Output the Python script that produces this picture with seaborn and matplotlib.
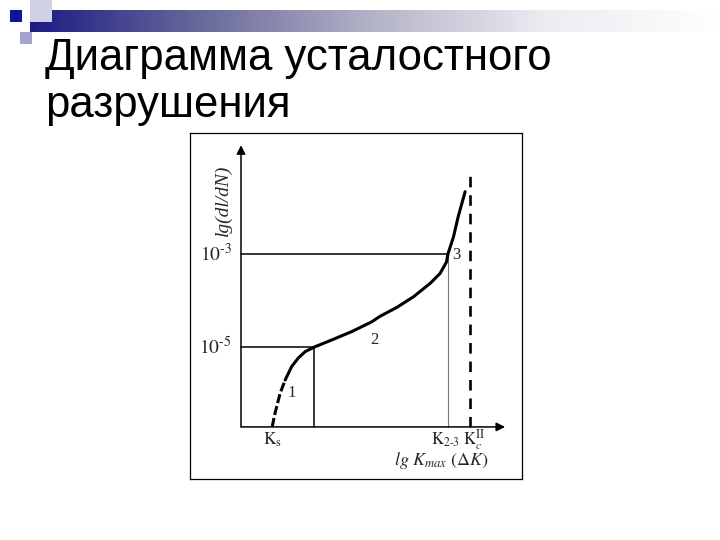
import numpy as np
import matplotlib
matplotlib.use("Agg")
import matplotlib.pyplot as plt
import seaborn as sns
from matplotlib.patches import Rectangle

# fatigue crack growth diagram: lg K (x) vs lg(dl/dN) (y)
curve_x = [0.67, 0.73, 0.84, 0.95, 1.09, 1.23, 1.38, 1.58, 1.95, 2.38, 2.81, 2.99, 3.35,
           3.71, 4.07, 4.28, 4.42, 4.45, 4.57, 4.67, 4.82]
curve_y = [-6.72, -6.43, -6.00, -5.71, -5.42, -5.24, -5.10, -5.00, -4.85, -4.67, -4.46, -4.34, -4.15,
           -3.92, -3.63, -3.42, -3.17, -3.00, -2.63, -2.20, -1.66]
n_dashed = 4  # first points of region 1 drawn dashed

rate_levels = [-5, -3]
rate_labels = [r"$10^{\text{-}5}$", r"$10^{\text{-}3}$"]
k_s = 0.67
k_1_2 = 1.58
k_2_3 = 4.45
k_c = 4.92
k_c_top = -1.19
origin = (0.0, -6.72)
x_tip = 5.68
y_tip = -0.66
region_labels = ["1", "2", "3"]
region_pos = [(1.10, -5.98), (2.87, -4.85), (4.64, -3.02)]

sns.set_style("white")
plt.rcParams["mathtext.fontset"] = "stix"
plt.rcParams["font.family"] = ["Liberation Sans", "DejaVu Sans"]

fig = plt.figure(figsize=(7.2, 5.4), dpi=100)

# slide decoration
deco = fig.add_axes([0, 0, 1, 1])
deco.set_xlim(0, 720)
deco.set_ylim(540, 0)
deco.axis("off")
grad = np.linspace(0, 1, 256)[None, :]
cmap = matplotlib.colors.LinearSegmentedColormap.from_list(
    "bar", ["#1c1c84", "#6a6a9c", "#b4b4c8", "#ececf2", "#ffffff"])
deco.imshow(grad, cmap=cmap, extent=(30, 720, 32, 10), aspect="auto")
deco.add_patch(Rectangle((30, 0), 22, 22, color="#d0d0e6", lw=0))
deco.add_patch(Rectangle((20, 32), 12, 12, color="#a4a4d2", lw=0))
deco.add_patch(Rectangle((10, 10), 12, 12, color="#14149a", lw=0))
deco.text(45, 70, "Диаграмма усталостного", fontsize=31.5, color="black", va="baseline")
deco.text(45, 117, "разрушения", fontsize=31.5, color="black", va="baseline")

# chart
ax = fig.add_axes([190 / 720, 1 - 479 / 540, 332 / 720, 346 / 540])
ax.set_xlim(-1.097, 6.043)
ax.set_ylim(-7.84, -0.398)
ax.set_xticks([])
ax.set_yticks([])
for sp in ax.spines.values():
    sp.set_visible(True)
    sp.set_color("black")
    sp.set_linewidth(0.9)

# axes arrows
arrow = dict(arrowstyle="-|>", lw=1.1, color="black", mutation_scale=13, shrinkA=0, shrinkB=0)
ax.annotate("", xy=(x_tip, origin[1]), xytext=origin, arrowprops=arrow)
ax.annotate("", xy=(origin[0], y_tip), xytext=origin, arrowprops=arrow)

# reference lines
ax.plot([0, k_1_2], [rate_levels[0]] * 2, color="black", lw=1.1)
ax.plot([k_1_2, k_1_2], [origin[1], rate_levels[0]], color="black", lw=1.1)
ax.plot([0, k_2_3], [rate_levels[1]] * 2, color="black", lw=1.1)
ax.plot([k_2_3, k_2_3], [origin[1], rate_levels[1]], color="#777777", lw=0.8)
ax.plot([k_c, k_c], [origin[1], k_c_top], color="black", lw=1.9, dashes=(4, 3))

# curve
sns.lineplot(x=curve_x[:n_dashed], y=curve_y[:n_dashed], ax=ax, color="black",
             lw=2.2, linestyle=(0, (3, 1)), sort=False)
sns.lineplot(x=curve_x[n_dashed - 1:], y=curve_y[n_dashed - 1:], ax=ax, color="black",
             lw=2.2, sort=False)

serif = ["Liberation Serif", "DejaVu Serif"]
for lvl, lab in zip(rate_levels, rate_labels):
    ax.text(-0.2, lvl - 0.15, lab, fontsize=14, ha="right", va="baseline", family=serif)
for lab, (px, py) in zip(region_labels, region_pos):
    ax.text(px, py, lab, fontsize=12, ha="center", va="center", family=serif)

ax.text(-0.37, -1.84, "lg(dl/dN)", rotation=90, fontsize=14, style="italic",
        ha="center", va="center", family=serif)
ax.text(k_s, origin[1] - 0.28, r"$\mathrm{K}_\mathrm{s}$", fontsize=12.5, ha="center", va="center")
ax.text(k_2_3 - 0.06, origin[1] - 0.28, r"$\mathrm{K}_{2\text{-}3}$", fontsize=12, ha="center", va="center")
ax.text(k_c + 0.1, origin[1] - 0.28, r"$\mathrm{K}_{c}^{\mathrm{II}}$", fontsize=12, ha="center", va="center")
ax.text(4.3, origin[1] - 0.72, r"$lg\ K_{max}\ (\Delta K)$", fontsize=13, ha="center", va="center")

fig.savefig("out.png", dpi=100)
